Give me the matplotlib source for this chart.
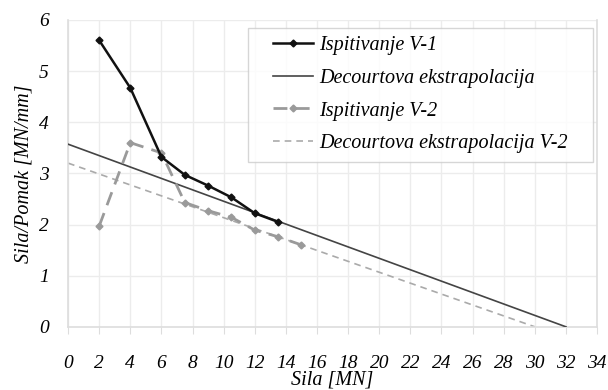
import numpy as np
import matplotlib
matplotlib.use("Agg")
import matplotlib.pyplot as plt

plt.rcParams['font.family'] = ['Liberation Serif', 'DejaVu Serif']
plt.rcParams['font.style'] = 'italic'

# measured points
sila_v1 = [2, 4, 6, 7.5, 9, 10.5, 12, 13.5]
omjer_v1 = [5.6, 4.67, 3.32, 2.97, 2.76, 2.53, 2.22, 2.05]
sila_v2 = [2, 4, 6, 7.5, 9, 10.5, 12, 13.5, 15]
omjer_v2 = [1.97, 3.6, 3.4, 2.43, 2.27, 2.14, 1.89, 1.76, 1.6]

# Decourt extrapolation end points
dec_v1_x = [0, 32]
dec_v1_y = [3.57, 0]
dec_v2_x = [0, 30]
dec_v2_y = [3.2, 0]

xticks = np.arange(0, 35, 2)
yticks = np.arange(0, 7, 1)

fig = plt.figure(figsize=(6.08, 3.9), dpi=100)
ax = fig.add_axes([0.112, 0.162, 0.87, 0.787])

ax.plot(sila_v1, omjer_v1, color='#111111', lw=1.8, marker='D', ms=3.5,
        label='Ispitivanje V-1', zorder=5)
ax.plot(dec_v1_x, dec_v1_y, color='#444444', lw=1.2,
        label='Decourtova ekstrapolacija', zorder=3)
ax.plot(sila_v2, omjer_v2, color='#9a9a9a', lw=2.0, ls=(0, (5, 3)),
        marker='D', ms=3.5, label='Ispitivanje V-2', zorder=4)
ax.plot(dec_v2_x, dec_v2_y, color='#aaaaaa', lw=1.2, ls=(0, (4, 3)),
        label='Decourtova ekstrapolacija V-2', zorder=2)

ax.set_xlim(0, 34)
ax.set_ylim(0, 6)
ax.set_xticks(xticks)
ax.set_yticks(yticks)
ax.grid(True, color='#ececec', lw=1.0)
ax.set_axisbelow(True)

for s in ['left', 'bottom', 'right']:
    ax.spines[s].set_color('#dddddd')
    ax.spines[s].set_linewidth(1.2)
ax.spines['top'].set_visible(False)
ax.tick_params(axis='x', direction='out', length=5, color='#dddddd',
               labelsize=14, pad=15)
ax.tick_params(axis='y', length=0, labelsize=14, pad=14)

ax.set_xlabel('Sila [MN]', fontsize=14.5, labelpad=-1)
ax.set_ylabel('Sila/Pomak [MN/mm]', fontsize=14.5, labelpad=4)

leg = ax.legend(loc='upper right', bbox_to_anchor=(0.979, 1.007),
                fontsize=14.5, frameon=True, fancybox=False,
                edgecolor='#cccccc', handlelength=2.0, handletextpad=0.3,
                labelspacing=0.68, borderpad=0.4)
# wider side margins in the legend frame than top/bottom
frame = leg.get_frame()
frame.set_linewidth(1.0)
frame.set_boxstyle('square', pad=0.85)
frame.set_mutation_aspect(0.01)

fig.savefig('out.png', dpi=100)
